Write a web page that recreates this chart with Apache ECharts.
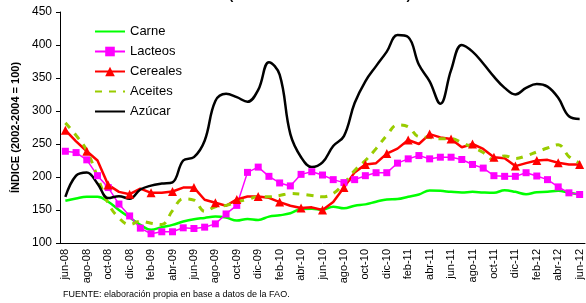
<!DOCTYPE html>
<html>
<head>
<meta charset="utf-8">
<script src="https://cdn.jsdelivr.net/npm/echarts@6/dist/echarts.min.js"></script>
<style>
  html, body { margin: 0; padding: 0; background: #fff; }
  #myChart { width: 586px; height: 303px; }
</style>
</head>
<body>
<div id="myChart"></div>
<script>
// meses jun-08 .. jun-12
const meses = [
  "jun-08", "jul-08", "ago-08", "sep-08", "oct-08", "nov-08", "dic-08",
  "ene-09", "feb-09", "mar-09", "abr-09", "may-09", "jun-09", "jul-09", "ago-09", "sep-09", "oct-09", "nov-09", "dic-09",
  "ene-10", "feb-10", "mar-10", "abr-10", "may-10", "jun-10", "jul-10", "ago-10", "sep-10", "oct-10", "nov-10", "dic-10",
  "ene-11", "feb-11", "mar-11", "abr-11", "may-11", "jun-11", "jul-11", "ago-11", "sep-11", "oct-11", "nov-11", "dic-11",
  "ene-12", "feb-12", "mar-12", "abr-12", "may-12", "jun-12"
];

const carne = [
  164, 167.5, 170, 170, 162.5, 150, 138.5, 127.5, 120, 124, 127.5, 132.5, 136,
  138, 140, 138.5, 134, 136.5, 135, 140, 142, 145, 151.5, 152, 150.5,
  155, 152.5, 156.5, 158.5, 162.5, 166, 166.5, 170, 173.5, 179.5, 179, 177.5,
  176.5, 177.5, 176.5, 176, 180, 177.5, 174, 177, 177.5, 179, 176, 173.5
];

const lacteos = [
  239, 237, 226, 202, 184, 159, 141, 122.5, 114, 117, 117, 123, 122,
  124, 129, 144, 157, 207, 215, 201, 191, 186.5, 204, 208, 203,
  196, 191.5, 196, 202, 206.5, 206.5, 221, 227.5, 232.5, 227.5, 230, 230,
  226.5, 219, 213.5, 202, 201, 201, 206.5, 201.5, 196, 185, 176, 173.5
];

const cereales = [
  271, 254, 239, 225, 188, 177.5, 174, 182.5, 176, 176, 178, 184, 184,
  165.5, 161, 156.5, 166, 170.5, 170.5, 168.5, 162, 156.5, 153, 154, 150,
  162, 184, 207, 219, 221, 235.5, 243, 256, 250, 265, 260, 257.5,
  245, 250, 242.5, 230, 228.5, 216.5, 221, 225, 226, 221.5, 219, 219
];

const aceites = [
  282, 263, 240, 200, 160, 138, 128, 133, 130, 128, 149, 167, 165,
  148, 155, 157, 162, 166, 170, 170, 172, 175, 174, 172, 170,
  175, 190, 210, 225, 243, 263, 279, 276, 261, 260, 258, 258,
  252, 245, 237, 226, 232, 228, 232, 238, 244, 249, 231, 221
];

const azucar = [
  170, 202, 207, 190, 168, 171, 167, 181, 187, 190, 192, 225, 230,
  255, 315, 326, 321, 314, 332, 374, 355, 265, 230, 215, 222,
  247, 262, 312, 345, 368, 390, 415, 412, 370, 345, 311, 362,
  400, 390, 372, 352, 335, 325, 335, 341, 337, 320, 292, 288
];

const font = "Liberation Sans, Arial, sans-serif";

const option = {
  backgroundColor: "#fff",
  animation: false,
  textStyle: { fontFamily: font },
  graphic: [
    {
      type: "text",
      left: 229,
      top: -11,
      style: { text: "(Índice base 2002-2004 = 100)", font: "bold 13px " + font, fill: "#000" },
    },
    {
      type: "text",
      left: 63,
      top: 290,
      style: {
        text: "FUENTE: elaboración propia en base a datos de la FAO.",
        font: "9px " + font,
        fill: "#000",
      },
    },
  ],
  legend: {
    orient: "vertical",
    left: 89,
    top: 20,
    itemWidth: 30,
    itemHeight: 12,
    itemGap: 7,
    textStyle: { fontSize: 13, color: "#000", fontFamily: font },
    data: [
      { name: "Carne", itemStyle: { opacity: 0 } },
      { name: "Lacteos" },
      { name: "Cereales" },
      { name: "Aceites", itemStyle: { opacity: 0 } },
      { name: "Azúcar", itemStyle: { opacity: 0 } },
    ],
  },
  grid: { left: 60, right: 1, top: 12, bottom: 60 },
  xAxis: {
    type: "category",
    data: meses,
    boundaryGap: true,
    axisLine: { lineStyle: { color: "#000", width: 1 } },
    axisTick: { interval: 1, length: 4, lineStyle: { color: "#000" } },
    axisLabel: { interval: 1, rotate: 90, fontSize: 11, color: "#000", margin: 6, fontFamily: font },
    splitLine: { show: false },
  },
  yAxis: {
    type: "value",
    min: 100,
    max: 450,
    interval: 50,
    name: "ÍNDICE (2002-2004 = 100)",
    nameLocation: "middle",
    nameGap: 36,
    nameTextStyle: { fontWeight: "bold", fontSize: 11, color: "#000", fontFamily: font },
    axisLine: { show: true, lineStyle: { color: "#000", width: 1 } },
    axisTick: { show: true, length: 4, lineStyle: { color: "#000" } },
    axisLabel: { fontSize: 12, color: "#000", margin: 8, fontFamily: font },
    splitLine: { show: false },
  },
  series: [
    {
      name: "Carne",
      type: "line",
      data: carne,
      smooth: 0.4,
      symbol: "none",
      lineStyle: { color: "#00ff00", width: 2.5 },
      itemStyle: { color: "#00ff00" },
    },
    {
      name: "Lacteos",
      type: "line",
      data: lacteos,
      symbol: "rect",
      symbolSize: 7,
      lineStyle: { color: "#ff00ff", width: 1.5 },
      itemStyle: { color: "#ff00ff" },
    },
    {
      name: "Cereales",
      type: "line",
      data: cereales,
      symbol: "triangle",
      symbolSize: 9,
      lineStyle: { color: "#ff0000", width: 2.5 },
      itemStyle: { color: "#ff0000" },
    },
    {
      name: "Aceites",
      type: "line",
      data: aceites,
      smooth: 0.4,
      symbol: "none",
      lineStyle: { color: "#99cc00", width: 3, type: [7, 7] },
      itemStyle: { color: "#99cc00" },
    },
    {
      name: "Azúcar",
      type: "line",
      data: azucar,
      smooth: 0.4,
      symbol: "none",
      lineStyle: { color: "#000000", width: 2.5 },
      itemStyle: { color: "#000000" },
    },
  ],
};

const myChart = echarts.init(document.getElementById("myChart"));
myChart.setOption(option);
</script>
</body>
</html>
